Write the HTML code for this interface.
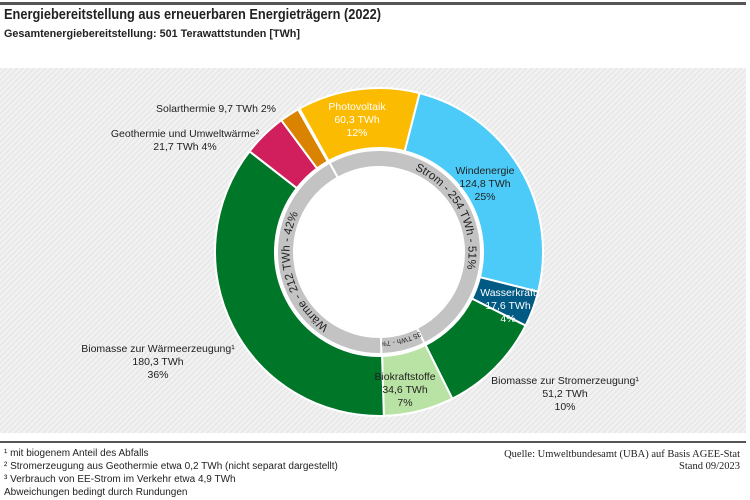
<!DOCTYPE html>
<html><head><meta charset="utf-8">
<style>
html,body{margin:0;padding:0;background:#fff;}
svg{display:block;font-family:"Liberation Sans Narrow","Liberation Sans",sans-serif;}
</style></head>
<body>
<svg id="chart" width="750" height="500" viewBox="0 0 750 500" xmlns="http://www.w3.org/2000/svg">
  <defs>
    <pattern id="hatch" width="4" height="4" patternUnits="userSpaceOnUse" patternTransform="rotate(45)">
      <rect width="4" height="4" fill="#f1f1f1"/>
      <rect width="1" height="4" fill="#e3e3e3"/>
    </pattern>
  </defs>
  <rect x="0" y="2" width="746" height="3" fill="#555"/>
  <text x="4" y="19" font-size="15" font-weight="bold" fill="#222" textLength="377" lengthAdjust="spacingAndGlyphs">Energiebereitstellung aus erneuerbaren Energieträgern (2022)</text>
  <text x="4" y="37" font-size="11" font-weight="bold" fill="#222" textLength="296" lengthAdjust="spacingAndGlyphs">Gesamtenergiebereitstellung:  501  Terawattstunden [TWh]</text>
  <rect x="0" y="68" width="746" height="365" fill="url(#hatch)"/>
  <g id="rings"></g>
  <g id="labels" font-size="10.5" text-anchor="middle">
    <text x="357" y="110" fill="#fff"><tspan x="357">Photovoltaik</tspan><tspan x="357" dy="13">60,3 TWh</tspan><tspan x="357" dy="13">12%</tspan></text>
    <text x="485" y="174" fill="#222"><tspan x="485">Windenergie</tspan><tspan x="485" dy="13">124,8 TWh</tspan><tspan x="485" dy="13">25%</tspan></text>
    <text x="508" y="296" fill="#fff"><tspan x="508">Wasserkraft</tspan><tspan x="508" dy="13">17,6 TWh</tspan><tspan x="508" dy="13">4%</tspan></text>
    <text x="405" y="380" fill="#222"><tspan x="405">Biokraftstoffe</tspan><tspan x="405" dy="13">34,6 TWh</tspan><tspan x="405" dy="13">7%</tspan></text>
    <text x="565" y="384" fill="#222"><tspan x="565">Biomasse zur Stromerzeugung¹</tspan><tspan x="565" dy="13">51,2 TWh</tspan><tspan x="565" dy="13">10%</tspan></text>
    <text x="158" y="352" fill="#222"><tspan x="158">Biomasse zur Wärmeerzeugung¹</tspan><tspan x="158" dy="13">180,3 TWh</tspan><tspan x="158" dy="13">36%</tspan></text>
    <text x="185" y="137" fill="#222"><tspan x="185">Geothermie und Umweltwärme²</tspan><tspan x="185" dy="13">21,7 TWh 4%</tspan></text>
    <text x="216" y="112" fill="#222">Solarthermie 9,7 TWh 2%</text>
  </g>
  <rect x="0" y="441" width="746" height="2" fill="#555"/>
  <g font-size="10" fill="#222">
    <text x="4" y="456">¹ mit biogenem Anteil des Abfalls</text>
    <text x="4" y="469">² Stromerzeugung aus Geothermie etwa 0,2 TWh (nicht separat dargestellt)</text>
    <text x="4" y="482">³ Verbrauch von EE-Strom im Verkehr etwa  4,9 TWh</text>
    <text x="4" y="495">Abweichungen bedingt durch Rundungen</text>
  </g>
  <g font-family="Liberation Serif, serif" font-size="10.5" fill="#222" text-anchor="end">
    <text x="740" y="457">Quelle:  Umweltbundesamt (UBA) auf Basis AGEE-Stat</text>
    <text x="740" y="469">Stand 09/2023</text>
  </g>
</svg>
<script>
// Outer ring data (TWh)
const outerNames = ["Photovoltaik","Windenergie","Wasserkraft","Biomasse Strom","Biokraftstoffe","Biomasse Wärme","Geothermie","Solarthermie"];
const outerValues = [60.3, 124.8, 17.6, 51.2, 34.6, 180.3, 21.7, 9.7];
const outerColors = ["#fbbb00","#4ccbf9","#005a84","#007629","#b9e3a5","#d01f5c","#d98301"];
// Inner ring data
const innerNames = ["Strom","Verkehr","Wärme"];
const innerValues = [254, 35, 212];
const innerLabels = ["Strom - 254 TWh - 51%","35 TWh - 7%","Wärme - 212 TWh - 42%"];

const NS = "http://www.w3.org/2000/svg";
const cx = 379, cy = 252;
const startDeg = -29;
const total = 501;
const colorFor = [outerColors[0],outerColors[1],outerColors[2],outerColors[3],outerColors[4],outerColors[3],outerColors[5],outerColors[6]];
function angle(v){ return startDeg + v / total * 360; }
function pt(r, deg){ const a = deg * Math.PI / 180; return [cx + r*Math.sin(a), cy - r*Math.cos(a)]; }
function arcPath(r0, r1, a0, a1){
  const large = (a1 - a0) > 180 ? 1 : 0;
  const p0 = pt(r1,a0), p1 = pt(r1,a1), p2 = pt(r0,a1), p3 = pt(r0,a0);
  return `M${p0[0]},${p0[1]} A${r1},${r1} 0 ${large} 1 ${p1[0]},${p1[1]} L${p2[0]},${p2[1]} A${r0},${r0} 0 ${large} 0 ${p3[0]},${p3[1]} Z`;
}
const g = document.getElementById('rings');
let acc = 0;
outerValues.forEach((v,i) => {
  const a0 = angle(acc), a1 = angle(acc + v);
  acc += v;
  const p = document.createElementNS(NS,'path');
  p.setAttribute('d', arcPath(104, 164, a0, a1));
  p.setAttribute('fill', colorFor[i]);
  p.setAttribute('stroke', '#fff');
  p.setAttribute('stroke-width', '2');
  
  
  g.appendChild(p);
});
acc = 0;
const defs = document.querySelector('defs');
innerValues.forEach((v,i) => {
  const a0 = angle(acc), a1 = angle(acc + v);
  acc += v;
  const p = document.createElementNS(NS,'path');
  p.setAttribute('d', arcPath(85, 102, a0, a1));
  p.setAttribute('fill', '#c3c3c3');
  p.setAttribute('stroke', '#fff');
  p.setAttribute('stroke-width', '2');
  
  
  g.appendChild(p);
  // label path along arc
  const rr = 89.5;
  const q0 = pt(rr, a0), q1 = pt(rr, a1);
  const large = (a1 - a0) > 180 ? 1 : 0;
  const path = document.createElementNS(NS,'path');
  path.setAttribute('id', 'lp' + i);
  path.setAttribute('d', `M${q0[0]},${q0[1]} A${rr},${rr} 0 ${large} 1 ${q1[0]},${q1[1]}`);
  path.setAttribute('fill', 'none');
  defs.appendChild(path);
  const t = document.createElementNS(NS,'text');
  t.setAttribute('font-size', i === 1 ? '7' : '11.5');
  t.setAttribute('fill', '#222');
  
  
  const tp = document.createElementNS(NS,'textPath');
  tp.setAttribute('href', '#lp' + i);
  tp.setAttribute('startOffset', '50%');
  tp.setAttribute('text-anchor', 'middle');
  tp.textContent = innerLabels[i];
  t.appendChild(tp);
  g.appendChild(t);
});
const wc = document.createElementNS(NS,'circle');
wc.setAttribute('cx', cx); wc.setAttribute('cy', cy); wc.setAttribute('r', 84);
wc.setAttribute('fill', '#fff');


g.appendChild(wc);
</script>
</body></html>
